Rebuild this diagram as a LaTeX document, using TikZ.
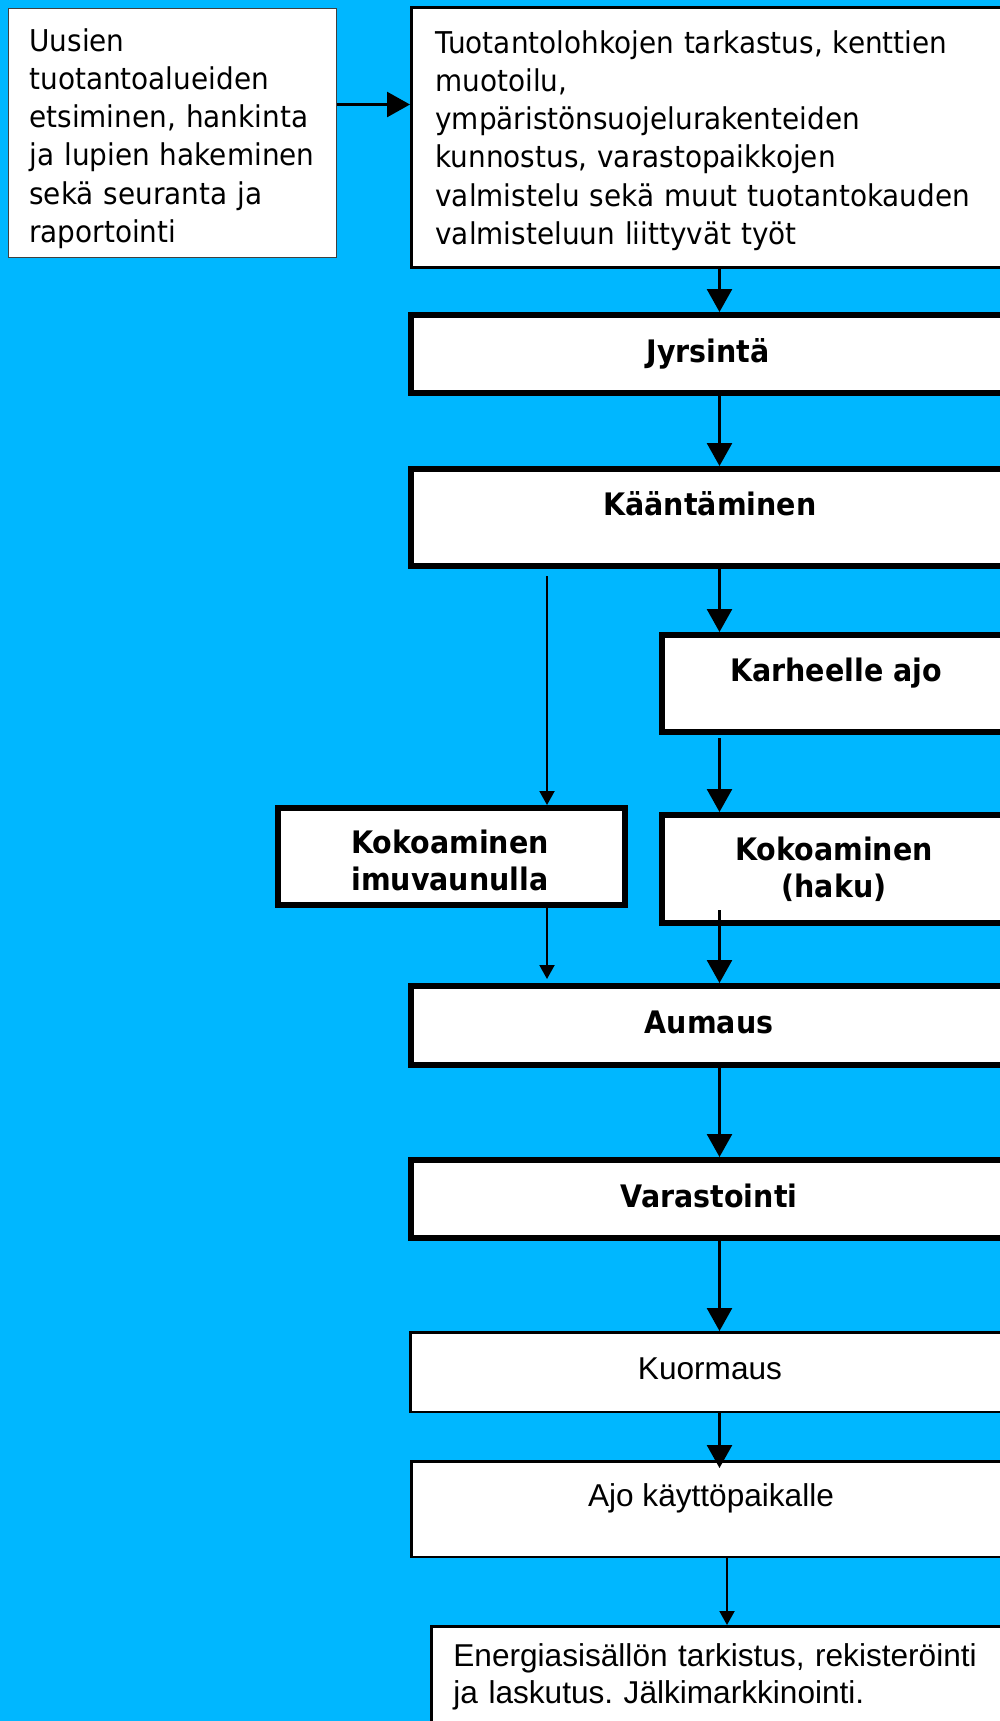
\documentclass[tikz,border=0pt]{standalone}
\usepackage{fontspec}
\usetikzlibrary{arrows.meta,calc}
\newfontfamily\regf{DejaVu Sans}[FakeStretch=0.93]
\newfontfamily\boldf{DejaVu Sans}[FakeStretch=0.92]
\newfontfamily\libf{Liberation Sans}
\definecolor{bgblue}{RGB}{0,183,255}
\frenchspacing
\begin{document}
\begin{tikzpicture}[x=0.5pt,y=-0.5pt,
  box/.style={draw=black,fill=white,rectangle,inner sep=0pt,anchor=north west},
  thinbox/.style={box,draw=black!75,line width=0.5pt},
  medbox/.style={box,line width=1.5pt},
  heavybox/.style={box,line width=3pt},
  lowbox/.style={box,line width=1.25pt},
  regtext/.style={inner sep=0pt,anchor=base west,align=left,font={\regf\fontsize{15pt}{19.15pt}\selectfont}},
  boldtext/.style={inner sep=0pt,anchor=base,font={\boldf\bfseries\fontsize{15.5pt}{18.75pt}\selectfont}},
  lowtext/.style={inner sep=0pt,anchor=base,font={\libf\fontsize{15.8pt}{18.5pt}\selectfont}},
  bigarr/.style={line width=1.3pt,-{Triangle[width=12.5pt,length=11.5pt]}},
  smallarr/.style={line width=1pt,-{Triangle[width=7.5pt,length=7pt]}}
]
\clip (0,0) rectangle (1000,1721);
\fill[bgblue] (0,0) rectangle (1000,1721);

% boxes
\node[thinbox,minimum width=164pt,minimum height=124.75pt] (b1) at (7.5,7.5) {};
\node[medbox,minimum width=299.5pt,minimum height=129.75pt] (b2) at (410,6) {};
\node[heavybox,minimum width=299pt,minimum height=39pt] (jyr) at (408,312) {};
\node[heavybox,minimum width=299pt,minimum height=48.5pt] (kaan) at (408,466) {};
\node[heavybox,minimum width=175pt,minimum height=48.5pt] (karh) at (659,632) {};
\node[heavybox,minimum width=173.5pt,minimum height=48.5pt] (imuv) at (275,805) {};
\node[heavybox,minimum width=175pt,minimum height=54pt] (haku) at (659,812) {};
\node[heavybox,minimum width=299pt,minimum height=39.5pt] (aum) at (408,983) {};
\node[heavybox,minimum width=299pt,minimum height=39pt] (var) at (408,1157) {};
\node[lowbox,minimum width=300.25pt,minimum height=39.75pt] (kuor) at (409,1331) {};
\node[lowbox,minimum width=299.75pt,minimum height=47.75pt] (ajo) at (410,1460) {};
\node[lowbox,minimum width=289.75pt,minimum height=56.25pt] (ener) at (430,1625) {};

% texts
\node[regtext,text width=160pt] (t1) at (29,51) {Uusien\\tuotantoalueiden\\etsiminen, hankinta\\ja lupien hakeminen\\sekä seuranta ja\\raportointi};
\node[regtext,text width=285pt] (t2) at (435,53) {Tuotantolohkojen tarkastus, kenttien\\muotoilu,\\ympäristönsuojelurakenteiden\\kunnostus, varastopaikkojen\\valmistelu sekä muut tuotantokauden\\valmisteluun liittyvät työt};
\node[boldtext] (tjyr) at (708,362) {Jyrsintä};
\node[boldtext] (tkaan) at (710,515) {Kääntäminen};
\node[boldtext] (tkarh) at (836,681) {Karheelle ajo};
\node[boldtext,text width=170pt,align=center] (timuv) at (450,853) {Kokoaminen\\imuvaunulla};
\node[boldtext,text width=170pt,align=center] (thaku) at (834,860) {Kokoaminen\\(haku)};
\node[boldtext] (taum) at (709,1033) {Aumaus};
\node[boldtext] (tvar) at (709,1207) {Varastointi};
\node[lowtext] (tkuor) at (710,1379) {Kuormaus};
\node[lowtext] (tajo) at (711,1506) {Ajo käyttöpaikalle};
\node[lowtext,anchor=base west,text width=285pt,align=left] (tener) at (453,1666) {Energiasisällön tarkistus, rekisteröinti\\ja laskutus. Jälkimarkkinointi.};

% arrow columns
\coordinate (c1) at (719.5,0);
\coordinate (c2) at (547,0);
\coordinate (c3) at (727,0);
\coordinate (r1) at (0,104.5);

% connectors
\draw[bigarr] (b1.east |- r1) -- (b2.west |- r1);
\draw[bigarr] (b2.south -| c1) -- (jyr.north -| c1);
\draw[bigarr] (jyr.south -| c1) -- (kaan.north -| c1);
\draw[bigarr] (kaan.south -| c1) -- (karh.north -| c1);
\draw[smallarr] ($(kaan.south -| c2)+(0,7)$) -- (imuv.north -| c2);
\draw[bigarr] ($(karh.south -| c1)+(0,3)$) -- (haku.north -| c1);
\draw[smallarr] (imuv.south -| c2) -- ($(aum.north -| c2)+(0,-4)$);
\draw[bigarr] ($(haku.south -| c1)+(0,-16)$) -- (aum.north -| c1);
\draw[bigarr] (aum.south -| c1) -- (var.north -| c1);
\draw[bigarr] (var.south -| c1) -- (kuor.north -| c1);
\draw[bigarr] (kuor.south -| c1) -- ($(ajo.north -| c1)+(0,8)$);
\draw[smallarr] (ajo.south -| c3) -- (ener.north -| c3);
\end{tikzpicture}
\end{document}
